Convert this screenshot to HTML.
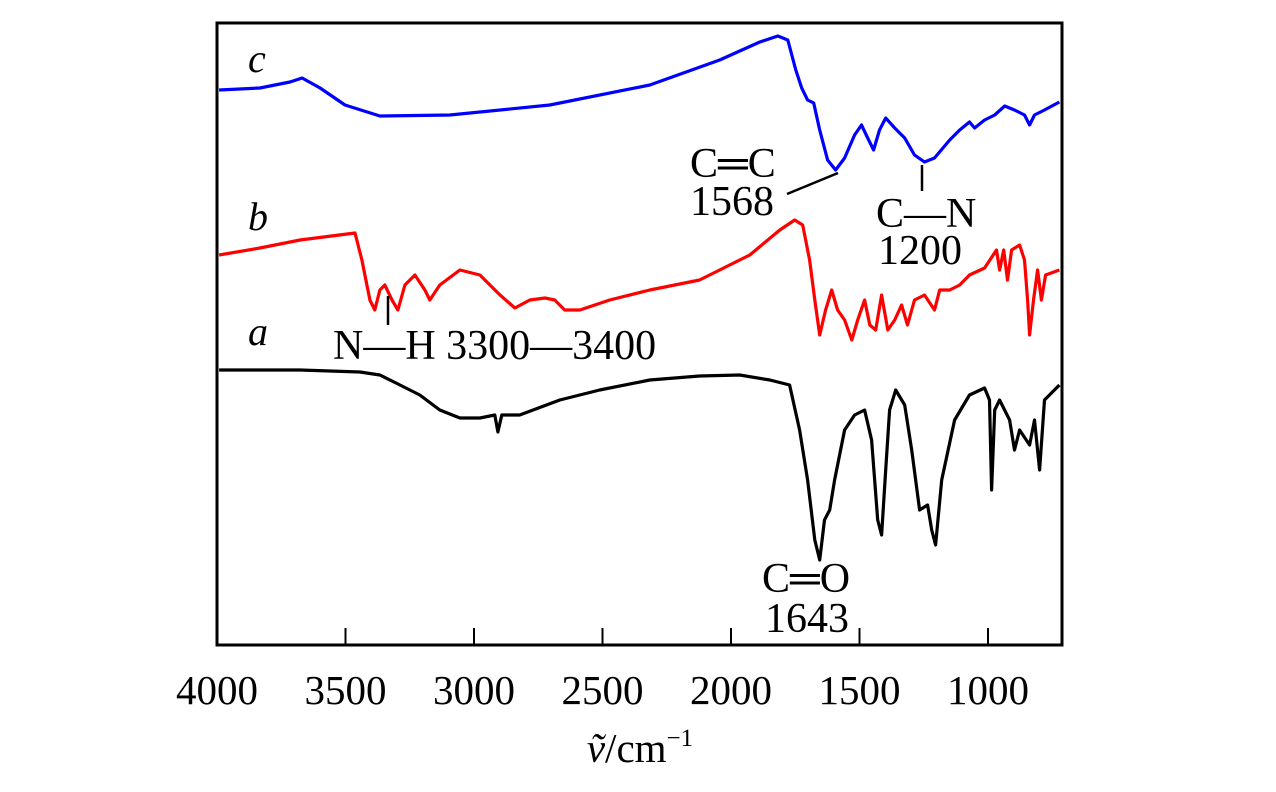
<!DOCTYPE html>
<html><head><meta charset="utf-8"><style>
body{margin:0;background:#fff;width:1276px;height:787px;overflow:hidden}
text{font-family:"Liberation Serif",serif;fill:#000}
</style></head><body>
<svg id="chart" width="1276" height="787" viewBox="0 0 1276 787" xmlns="http://www.w3.org/2000/svg">
<rect x="217" y="23" width="845" height="622" fill="none" stroke="#000" stroke-width="3"/>
<g id="ticks"></g>
<g id="series"></g>
<text x="640" y="762" font-size="41" text-anchor="middle"><tspan font-style="italic">ṽ</tspan>/cm<tspan font-size="25" dy="-16">−1</tspan></text>
<text x="248" y="72" font-size="40" font-style="italic">c</text>
<text x="248" y="230" font-size="40" font-style="italic">b</text>
<text x="248" y="345" font-size="40" font-style="italic">a</text>
<text x="690" y="177" font-size="42">C═C</text>
<text x="690" y="215" font-size="42">1568</text>
<line x1="787" y1="194" x2="838" y2="173" stroke="#000" stroke-width="2.5"/>
<text x="876" y="227" font-size="42">C—N</text>
<text x="878" y="264" font-size="42">1200</text>
<line x1="922" y1="165" x2="922" y2="191" stroke="#000" stroke-width="2.5"/>
<text x="333" y="359" font-size="42">N—H 3300—3400</text>
<line x1="388" y1="296" x2="388" y2="325" stroke="#000" stroke-width="2.5"/>
<text x="762" y="592" font-size="42">C═O</text>
<text x="765" y="632" font-size="42">1643</text>
</svg>
<script>
const tickValues=[4000,3500,3000,2500,2000,1500,1000];
const tickLabels=["4000","3500","3000","2500","2000","1500","1000"];
const wnC=[3992,3833,3716,3669,3599,3502,3366,3094,2705,2316,2044,1888,1818,1779,1748,1725,1702,1678,1655,1624,1593,1558,1519,1492,1468,1445,1422,1398,1363,1324,1286,1247,1208,1149,1110,1072,1052,1013,974,935,897,858,838,819,780,722];
const tC=[555,557,563,567,557,540,529,530,540,560,585,603,609,605,575,557,545,542,515,485,475,487,510,520,507,495,515,527,517,507,490,483,487,505,515,523,517,525,530,539,535,530,520,530,535,543];
const wnB=[3992,3833,3677,3463,3436,3405,3386,3366,3347,3319,3296,3269,3230,3191,3172,3133,3055,2977,2899,2841,2783,2724,2686,2647,2588,2472,2316,2122,1927,1810,1752,1721,1694,1674,1655,1632,1608,1585,1558,1530,1507,1480,1460,1437,1414,1390,1363,1336,1313,1286,1247,1208,1188,1149,1110,1072,1013,967,955,939,924,908,877,858,846,838,823,807,792,776,722];
const tB=[390,397,405,412,385,345,335,355,360,345,335,360,370,355,345,360,375,370,350,337,345,347,345,335,335,345,355,365,390,415,425,420,385,345,310,335,355,335,325,305,325,345,320,315,350,315,325,340,320,345,350,335,355,355,360,370,377,395,375,395,365,395,400,385,345,310,345,375,345,370,375];
const wnA=[3992,3677,3444,3366,3288,3211,3133,3055,2977,2919,2907,2892,2822,2666,2511,2316,2122,1966,1849,1772,1733,1702,1674,1655,1636,1616,1597,1558,1519,1480,1453,1429,1414,1398,1383,1359,1324,1297,1266,1235,1219,1204,1180,1130,1072,1013,994,986,974,955,916,897,877,838,819,799,780,722];
const tA=[275,275,273,270,260,250,235,227,227,230,213,230,230,245,255,265,269,270,265,260,215,165,105,85,125,135,165,215,230,235,205,125,110,175,235,255,240,195,135,140,115,100,165,225,250,257,245,155,235,245,225,195,215,200,225,175,245,260];
const X0=217,X1=1062,Y0=645,Y1=23,W0=4000,W1=712,V0=0,V1=622;
const xs=w=>X0+(W0-w)/(W0-W1)*(X1-X0);
const ys=v=>Y0-(v-V0)/(V1-V0)*(Y0-Y1);
const NS="http://www.w3.org/2000/svg";
const tg=document.getElementById('ticks');
tickValues.forEach((v,i)=>{
 const x=xs(v);
 if(i>0){const l=document.createElementNS(NS,'line');
 
 
 l.setAttribute('x1',x);l.setAttribute('x2',x);l.setAttribute('y1',Y0);l.setAttribute('y2',Y0-17);
 l.setAttribute('stroke','#000');l.setAttribute('stroke-width','2');tg.appendChild(l);}
 const t=document.createElementNS(NS,'text');
 
 
 t.setAttribute('x',x);t.setAttribute('y',704);t.setAttribute('font-size','41');t.setAttribute('text-anchor','middle');
 t.textContent=tickLabels[i];tg.appendChild(t);
});
const sg=document.getElementById('series');
[[wnA,tA,'#000','spectrum-a'],[wnB,tB,'#f00','spectrum-b'],[wnC,tC,'#00f','spectrum-c']].forEach(s=>{
 const p=document.createElementNS(NS,'path');
 
 
 p.setAttribute('d',s[0].map((w,i)=>(i?'L':'M')+xs(w).toFixed(1)+' '+ys(s[1][i]).toFixed(1)).join(''));
 p.setAttribute('fill','none');p.setAttribute('stroke',s[2]);p.setAttribute('stroke-width','3.2');p.setAttribute('stroke-linejoin','round');
 sg.appendChild(p);
});
</script>
</body></html>
